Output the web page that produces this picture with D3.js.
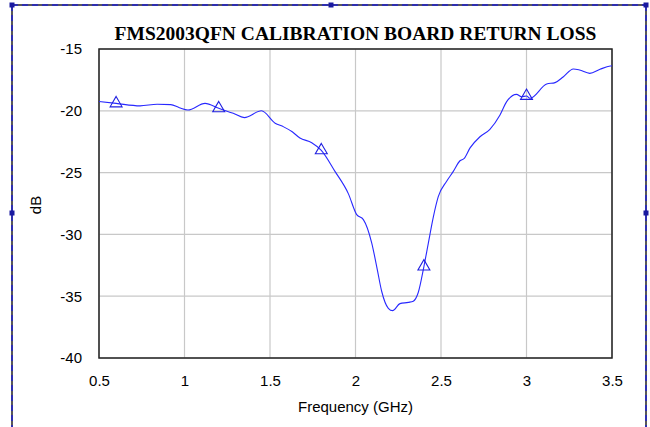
<!DOCTYPE html>
<html>
<head>
<meta charset="utf-8">
<script src="https://cdn.jsdelivr.net/npm/d3@7"></script>
<style>
  body { margin: 0; background: #fff; }
  svg { display: block; }
</style>
</head>
<body>
<div id="chart"></div>
<script>
// chart values
var freqGHz = [0.50, 0.60, 0.74, 0.84, 0.92, 0.97, 1.02, 1.12, 1.20, 1.285, 1.35, 1.45, 1.53,
  1.58, 1.63, 1.675, 1.744, 1.80, 1.88, 1.958, 2.007, 2.046, 2.095, 2.124, 2.153, 2.192, 2.217,
  2.26, 2.309, 2.338, 2.367, 2.40, 2.426, 2.455, 2.484, 2.533, 2.572, 2.611, 2.636, 2.67, 2.728,
  2.786, 2.845, 2.884, 2.942, 2.97, 3.00, 3.02, 3.118, 3.167, 3.216, 3.274, 3.31, 3.37, 3.43, 3.49, 3.50];
var returnLossDb = [-19.25, -19.4, -19.6, -19.47, -19.5, -19.75, -19.93, -19.4, -19.8, -20.2, -20.55, -20.0, -21.0,
  -21.3, -21.7, -22.2, -22.58, -23.2, -24.9, -26.7, -28.4, -28.8, -30.7, -32.6, -34.6, -35.98, -36.17,
  -35.6, -35.5, -35.4, -34.7, -32.6, -30.7, -28.6, -26.95, -25.7, -24.9, -24.04, -23.85, -23.0, -22.1,
  -21.5, -20.34, -19.26, -18.67, -18.86, -18.8, -18.99, -17.83, -17.72, -17.24, -16.62, -16.7, -16.97, -16.64, -16.37, -16.35];
var markerFreqs = [0.6, 1.2, 1.8, 2.4, 3.0];
var xTicks = [0.5, 1, 1.5, 2, 2.5, 3, 3.5];
var yTicks = [-15, -20, -25, -30, -35, -40];
var chartTitle = "FMS2003QFN CALIBRATION BOARD RETURN LOSS";

var svgWidth = 650;
var svgHeight = 427;

var margin = { top: 49, right: 38, bottom: 69, left: 99 };
var width = svgWidth - margin.left - margin.right;
var height = svgHeight - margin.top - margin.bottom;

var svg = d3.select("#chart")
  .append("svg")
  .attr("width", svgWidth)
  .attr("height", svgHeight);

// outer selection frame
var frame = svg.append("g");
var frameLines = [[12, 5, 646, 5], [12, 5, 12, 427], [646, 5, 646, 427]];
frameLines.forEach(function(l) {
  frame.append("line")
    .attr("x1", l[0]).attr("y1", l[1]).attr("x2", l[2]).attr("y2", l[3])
    .attr("stroke", "#222").attr("stroke-width", 1.5);
  frame.append("line")
    .attr("x1", l[0]).attr("y1", l[1]).attr("x2", l[2]).attr("y2", l[3])
    .attr("stroke", "#2222cc").attr("stroke-width", 1.5)
    .attr("stroke-dasharray", "6,4");
});
[[12, 5], [331, 5], [646, 5], [12, 213], [646, 213]].forEach(function(p) {
  frame.append("rect")
    .attr("x", p[0] - 2.5).attr("y", p[1] - 2.5)
    .attr("width", 5).attr("height", 5)
    .attr("fill", "#1a1aa0");
});

var chartGroup = svg.append("g")
  .attr("transform", `translate(${margin.left}, ${margin.top})`);

var xScale = d3.scaleLinear().domain([0.5, 3.5]).range([0, width]);
var yScale = d3.scaleLinear().domain([-40, -15]).range([height, 0]);

// gridlines
chartGroup.append("g")
  .selectAll("line")
  .data(xTicks)
  .enter()
  .append("line")
  .attr("x1", d => xScale(d)).attr("x2", d => xScale(d))
  .attr("y1", 0).attr("y2", height)
  .attr("stroke", "#c8c8c8").attr("stroke-width", 1.2);

chartGroup.append("g")
  .selectAll("line")
  .data(yTicks)
  .enter()
  .append("line")
  .attr("x1", 0).attr("x2", width)
  .attr("y1", d => yScale(d)).attr("y2", d => yScale(d))
  .attr("stroke", "#c8c8c8").attr("stroke-width", 1.2);

// axes (labels only), plain hyphen for negatives like the original
var xAxis = chartGroup.append("g")
  .attr("transform", `translate(0, ${height})`)
  .call(d3.axisBottom(xScale).tickValues(xTicks).tickSize(0).tickPadding(17).tickFormat(d => String(d)));
var yAxis = chartGroup.append("g")
  .call(d3.axisLeft(yScale).tickValues(yTicks).tickSize(0).tickPadding(17).tickFormat(d => String(d)));
[xAxis, yAxis].forEach(function(ax) {
  ax.select(".domain").remove();
  ax.selectAll("text")
    .attr("font-family", "Liberation Sans, Arial, sans-serif")
    .attr("font-size", 15)
    .attr("fill", "#000");
});

// plot border
chartGroup.append("rect")
  .attr("width", width).attr("height", height)
  .attr("fill", "none")
  .attr("stroke", "#222").attr("stroke-width", 1.5);

// line
var line = d3.line()
  .x((d, i) => xScale(freqGHz[i]))
  .y(d => yScale(d))
  .curve(d3.curveMonotoneX);

chartGroup.append("path")
  .attr("d", line(returnLossDb))
  .attr("fill", "none")
  .attr("stroke", "#2828ff")
  .attr("stroke-width", 1.1);

// triangle markers
var triangle = d3.symbol().type(d3.symbolTriangle).size(62);
chartGroup.selectAll(".marker")
  .data(markerFreqs)
  .enter()
  .append("path")
  .attr("class", "marker")
  .attr("d", triangle)
  .attr("transform", d => `translate(${xScale(d)}, ${yScale(returnLossDb[freqGHz.indexOf(d)])})`)
  .attr("fill", "none")
  .attr("stroke", "#2020e0")
  .attr("stroke-width", 1.1);

// title
svg.append("text")
  .attr("x", margin.left + width / 2)
  .attr("y", 40)
  .attr("text-anchor", "middle")
  .attr("font-family", "Liberation Serif, Times New Roman, serif")
  .attr("font-weight", "bold")
  .attr("font-size", 19.5)
  .text(chartTitle);

// axis titles
svg.append("text")
  .attr("x", margin.left + width / 2)
  .attr("y", 412)
  .attr("text-anchor", "middle")
  .attr("font-family", "Liberation Sans, Arial, sans-serif")
  .attr("font-size", 15)
  .text("Frequency (GHz)");

svg.append("text")
  .attr("transform", "translate(41, 205) rotate(-90)")
  .attr("text-anchor", "middle")
  .attr("font-family", "Liberation Sans, Arial, sans-serif")
  .attr("font-size", 15)
  .text("dB");
</script>
</body>
</html>
